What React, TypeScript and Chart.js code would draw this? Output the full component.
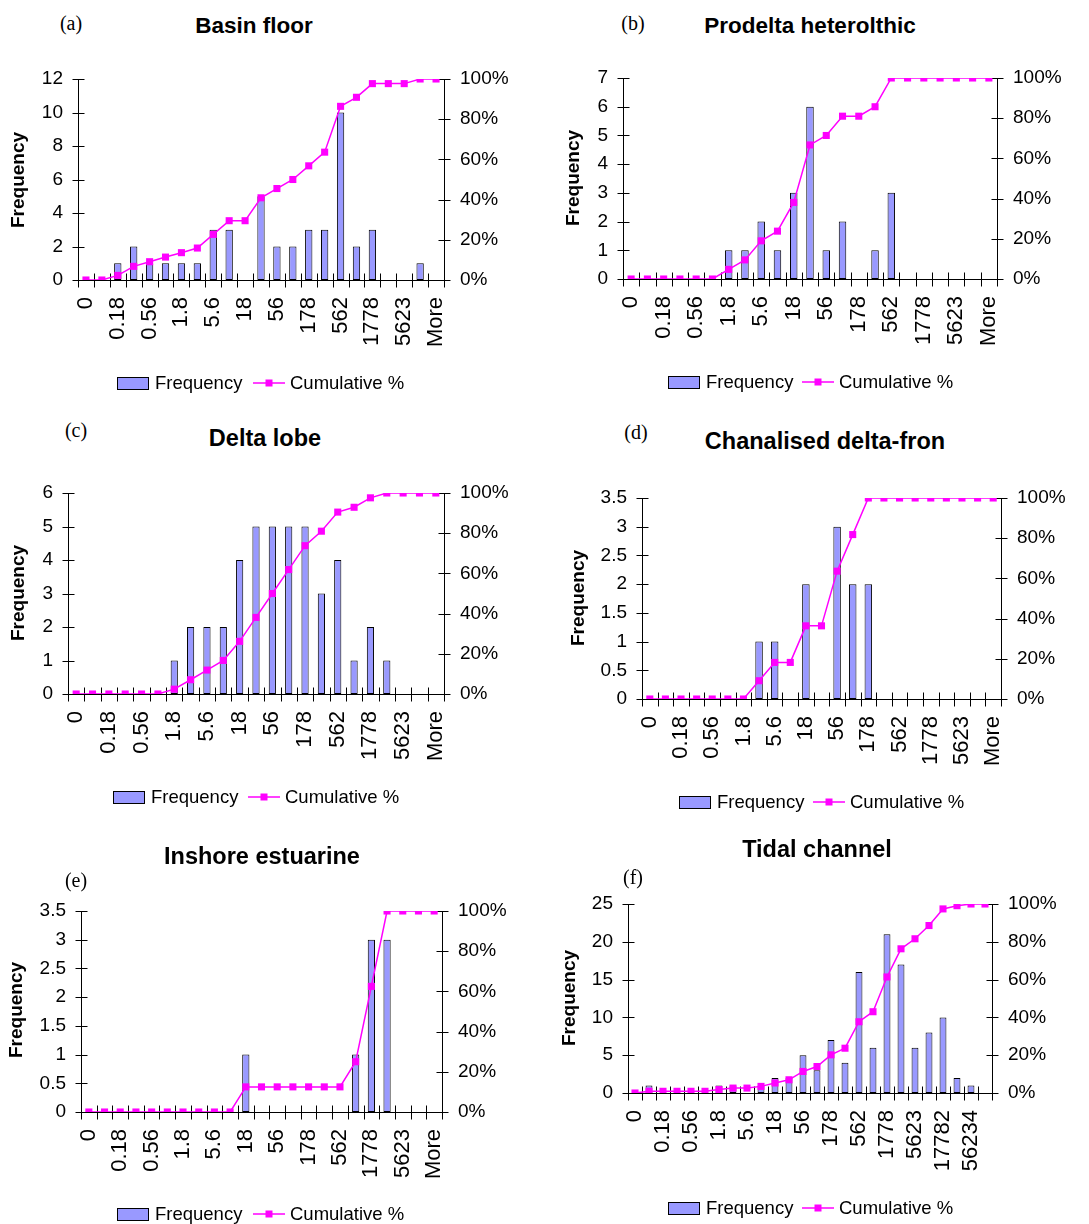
import React, { useEffect, useRef } from 'react';
import { Chart, registerables } from 'chart.js';

Chart.register(...registerables);

// ---------- data ----------
const binLabels = ['0', '0.1', '0.18', '0.32', '0.56', '1', '1.8', '3.2', '5.6', '10', '18', '32', '56', '100', '178', '316', '562', '1000', '1778', '3162', '5623', '10000', 'More'];
const binLabelsTidal = ['0', '0.1', '0.18', '0.32', '0.56', '1', '1.8', '3.2', '5.6', '10', '18', '32', '56', '100', '178', '316', '562', '1000', '1778', '3162', '5623', '10000', '17782', '31623', '56234', 'More'];

const basinFreq = [0, 0, 1, 2, 1, 1, 1, 1, 3, 3, 0, 5, 2, 2, 3, 3, 10, 2, 3, 0, 0, 1, 0];
const basinCum = [0, 0, 2.3, 6.8, 9.1, 11.4, 13.6, 15.9, 22.7, 29.5, 29.5, 40.9, 45.5, 50.0, 56.8, 63.6, 86.4, 90.9, 97.7, 97.7, 97.7, 100, 100];

const prodeltaFreq = [0, 0, 0, 0, 0, 0, 1, 1, 2, 1, 3, 6, 1, 2, 0, 1, 3, 0, 0, 0, 0, 0, 0];
const prodeltaCum = [0, 0, 0, 0, 0, 0, 4.8, 9.5, 19.0, 23.8, 38.1, 66.7, 71.4, 81.0, 81.0, 85.7, 100, 100, 100, 100, 100, 100, 100];

const lobeFreq = [0, 0, 0, 0, 0, 0, 1, 2, 2, 2, 4, 5, 5, 5, 5, 3, 4, 1, 2, 1, 0, 0, 0];
const lobeCum = [0, 0, 0, 0, 0, 0, 2.4, 7.1, 11.9, 16.7, 26.2, 38.1, 50.0, 61.9, 73.8, 81.0, 90.5, 92.9, 97.6, 100, 100, 100, 100];

const frontFreq = [0, 0, 0, 0, 0, 0, 0, 1, 1, 0, 2, 0, 3, 2, 2, 0, 0, 0, 0, 0, 0, 0, 0];
const frontCum = [0, 0, 0, 0, 0, 0, 0, 9.1, 18.2, 18.2, 36.4, 36.4, 63.6, 81.8, 100, 100, 100, 100, 100, 100, 100, 100, 100];

const estuarineFreq = [0, 0, 0, 0, 0, 0, 0, 0, 0, 0, 1, 0, 0, 0, 0, 0, 0, 1, 3, 3, 0, 0, 0];
const estuarineCum = [0, 0, 0, 0, 0, 0, 0, 0, 0, 0, 12.5, 12.5, 12.5, 12.5, 12.5, 12.5, 12.5, 25.0, 62.5, 100, 100, 100, 100];

const tidalFreq = [0, 1, 0, 0, 0, 0, 1, 1, 0, 1, 2, 2, 5, 3, 7, 4, 16, 6, 21, 17, 6, 8, 10, 2, 1, 0];
const tidalCum = [0, 0.9, 0.9, 0.9, 0.9, 0.9, 1.8, 2.6, 2.6, 3.5, 5.3, 7.0, 11.4, 14.0, 20.2, 23.7, 37.7, 43.0, 61.4, 76.3, 81.6, 88.6, 97.4, 99.1, 100, 100];

const leftTicksMax = [12, 7, 6, 3.5, 3.5, 25];
const leftTicksStep = [2, 1, 1, 0.5, 0.5, 5];
const panelTags = ['(a)', '(b)', '(c)', '(d)', '(e)', '(f)'];
const panelTitles = ['Basin floor', 'Prodelta heterolthic', 'Delta lobe', 'Chanalised delta-fron', 'Inshore estuarine', 'Tidal channel'];
const percentTicks = [0, 20, 40, 60, 80, 100];

// ---------- layout ----------
const SANS = "'Liberation Sans', Arial, Helvetica, sans-serif";
const SERIF = "'Liberation Serif', 'Times New Roman', serif";
const LEFT_W = 50;
const RIGHT_W = 75;
const X_H = 90;
const BAR_FILL = '#9999FF';
const LINE_COL = '#FF00FF';

type PanelDef = {
  labels: string[]; freq: number[]; cum: number[]; yMax: number; yStep: number;
  tag: string; title: string;
  x0: number; y0: number; w: number; h: number;
  L: number; R: number; T: number; B: number;
  tagX: number; tagY: number; titleX: number; titleY: number; titleSize: number;
  fqX: number; fqY: number;
  legBox: number; legLine: number; legY: number;
  barPct: number;
};

const geo = [
  { x0: 0, y0: 40, w: 544, h: 370, L: 78, R: 444, T: 79, B: 280, tagX: 71, tagY: 23, titleX: 254, titleY: 26, titleSize: 22.5, fqX: 19, fqY: 180, legBox: 117, legLine: 253, legY: 383, barPct: 0.46 },
  { x0: 545, y0: 40, w: 544, h: 370, L: 623, R: 997, T: 78, B: 279, tagX: 633, tagY: 23, titleX: 810, titleY: 26, titleSize: 22.5, fqX: 574, fqY: 178, legBox: 668, legLine: 802, legY: 382, barPct: 0.46 },
  { x0: 0, y0: 455, w: 544, h: 370, L: 68, R: 444, T: 493, B: 694, tagX: 76, tagY: 430, titleX: 265, titleY: 439, titleSize: 23.5, fqX: 19, fqY: 593, legBox: 113, legLine: 248, legY: 797, barPct: 0.44 },
  { x0: 545, y0: 455, w: 544, h: 370, L: 642, R: 1001, T: 498, B: 699, tagX: 636, tagY: 432, titleX: 825, titleY: 442, titleSize: 23.5, fqX: 579, fqY: 598, legBox: 679, legLine: 813, legY: 802, barPct: 0.48 },
  { x0: 0, y0: 885, w: 544, h: 339, L: 81, R: 442, T: 911, B: 1112, tagX: 76, tagY: 880, titleX: 262, titleY: 857, titleSize: 23.5, fqX: 17, fqY: 1010, legBox: 117, legLine: 253, legY: 1214, barPct: 0.46 },
  { x0: 545, y0: 885, w: 544, h: 339, L: 628, R: 992, T: 904, B: 1093, tagX: 633, tagY: 877, titleX: 817, titleY: 850, titleSize: 23.5, fqX: 570, fqY: 998, legBox: 668, legLine: 802, legY: 1208, barPct: 0.49 },
];

const dataSets = [
  { labels: binLabels, freq: basinFreq, cum: basinCum },
  { labels: binLabels, freq: prodeltaFreq, cum: prodeltaCum },
  { labels: binLabels, freq: lobeFreq, cum: lobeCum },
  { labels: binLabels, freq: frontFreq, cum: frontCum },
  { labels: binLabels, freq: estuarineFreq, cum: estuarineCum },
  { labels: binLabelsTidal, freq: tidalFreq, cum: tidalCum },
];

const panels: PanelDef[] = geo.map((g, i) => ({
  ...g,
  ...dataSets[i],
  yMax: leftTicksMax[i],
  yStep: leftTicksStep[i],
  tag: panelTags[i],
  title: panelTitles[i],
}));

function decorPlugin(p: PanelDef) {
  return {
    id: 'decor',
    beforeDatasetsDraw(chart: any) {
      const ctx = chart.ctx as CanvasRenderingContext2D;
      const { left, right, bottom, top } = chart.chartArea;
      const a = (v: number) => Math.round(v) + 0.5;
      ctx.save();
      ctx.strokeStyle = '#000';
      ctx.lineWidth = 1;
      ctx.beginPath();
      ctx.moveTo(a(left), a(top));
      ctx.lineTo(a(left), a(bottom));
      ctx.moveTo(a(right), a(top));
      ctx.lineTo(a(right), a(bottom));
      ctx.moveTo(a(left), a(bottom));
      ctx.lineTo(a(right), a(bottom));
      const ys = chart.scales.y;
      ys.ticks.forEach((t: any) => {
        const y = a(ys.getPixelForValue(t.value));
        ctx.moveTo(a(left) - 6, y);
        ctx.lineTo(a(left) + 6, y);
      });
      const y2 = chart.scales.y2;
      y2.ticks.forEach((t: any) => {
        const y = a(y2.getPixelForValue(t.value));
        ctx.moveTo(a(right) - 6, y);
        ctx.lineTo(a(right) + 6, y);
      });
      const n = chart.data.labels.length;
      for (let i = 0; i <= n; i++) {
        const x = a(left + ((right - left) * i) / n);
        ctx.moveTo(x, a(bottom) - 7);
        ctx.lineTo(x, a(bottom) + 7);
      }
      ctx.stroke();
      ctx.restore();
    },
    afterDraw(chart: any) {
      const ctx = chart.ctx as CanvasRenderingContext2D;
      ctx.save();
      ctx.fillStyle = '#000';
      ctx.font = `bold 19px ${SANS}`;
      ctx.textAlign = 'center';
      ctx.textBaseline = 'middle';
      ctx.translate(p.fqX - p.x0, p.fqY - p.y0);
      ctx.rotate(-Math.PI / 2);
      ctx.fillText('Frequency', 0, 0);
      ctx.restore();

      ctx.save();
      const ly = p.legY - p.y0;
      const bx = p.legBox - p.x0;
      const lx = p.legLine - p.x0;
      ctx.fillStyle = BAR_FILL;
      ctx.fillRect(bx, Math.round(ly - 6), 31, 12);
      ctx.strokeStyle = '#000';
      ctx.lineWidth = 1;
      ctx.strokeRect(bx + 0.5, Math.round(ly - 6) + 0.5, 31, 12);
      ctx.fillStyle = '#000';
      ctx.font = `18.5px ${SANS}`;
      ctx.textAlign = 'left';
      ctx.textBaseline = 'middle';
      ctx.fillText('Frequency', bx + 38, ly + 1);
      ctx.strokeStyle = LINE_COL;
      ctx.lineWidth = 1.5;
      ctx.beginPath();
      ctx.moveTo(lx, ly);
      ctx.lineTo(lx + 32, ly);
      ctx.stroke();
      ctx.fillStyle = LINE_COL;
      ctx.fillRect(lx + 16 - 3.5, ly - 3.5, 7, 7);
      ctx.fillStyle = '#000';
      ctx.fillText('Cumulative %', lx + 37, ly + 1);
      ctx.restore();
    },
  };
}

function Panel({ p }: { p: PanelDef }) {
  const ref = useRef<HTMLCanvasElement | null>(null);
  useEffect(() => {
    const canvas = ref.current;
    if (!canvas) return;
    const tickFont = { family: SANS, size: 19 };
    const chart = new Chart(canvas, {
      type: 'bar',
      data: {
        labels: p.labels,
        datasets: [
          {
            type: 'line',
            label: 'Cumulative %',
            data: p.cum,
            yAxisID: 'y2',
            borderColor: LINE_COL,
            backgroundColor: LINE_COL,
            borderWidth: 1.5,
            pointStyle: 'rect',
            pointRadius: 5,
            pointBorderWidth: 0,
            pointBackgroundColor: LINE_COL,
            tension: 0,
            order: 0,
          } as any,
          {
            type: 'bar',
            label: 'Frequency',
            data: p.freq,
            yAxisID: 'y',
            backgroundColor: BAR_FILL,
            borderColor: '#000',
            borderWidth: 1,
            borderSkipped: false,
            barPercentage: p.barPct,
            categoryPercentage: 1,
            order: 1,
          } as any,
        ],
      },
      options: {
        responsive: false,
        animation: false,
        devicePixelRatio: 1,
        layout: {
          padding: {
            left: p.L - p.x0 - LEFT_W,
            right: p.x0 + p.w - p.R - RIGHT_W,
            top: p.T - p.y0,
            bottom: p.y0 + p.h - p.B - X_H,
          },
        },
        plugins: {
          legend: { display: false },
          title: { display: false },
          tooltip: { enabled: false },
        },
        scales: {
          x: {
            type: 'category',
            offset: true,
            grid: { display: false, drawTicks: false },
            border: { display: false },
            ticks: {
              autoSkip: false,
              maxRotation: 90,
              minRotation: 90,
              padding: 17,
              color: '#000',
              font: { family: SANS, size: 22 },
              callback: (_v: any, i: number) => (i % 2 === 0 ? p.labels[i] : ''),
            },
            afterFit: (s: any) => {
              s.height = X_H;
              s.paddingLeft = 0;
              s.paddingRight = 0;
            },
          },
          y: {
            position: 'left',
            min: 0,
            max: p.yMax,
            grid: { display: false, drawTicks: false },
            border: { display: false },
            ticks: {
              stepSize: p.yStep,
              padding: 15,
              color: '#000',
              font: tickFont,
              callback: (v: any) => String(Math.round(Number(v) * 100) / 100),
            },
            afterFit: (s: any) => {
              s.width = LEFT_W;
              s.paddingTop = 0;
              s.paddingBottom = 0;
            },
          },
          y2: {
            position: 'right',
            min: 0,
            max: 100,
            grid: { display: false, drawTicks: false },
            border: { display: false },
            afterBuildTicks: (s: any) => {
              s.ticks = percentTicks.map((v) => ({ value: v }));
            },
            ticks: {
              padding: 16,
              color: '#000',
              font: tickFont,
              callback: (v: any) => `${v}%`,
            },
            afterFit: (s: any) => {
              s.width = RIGHT_W;
              s.paddingTop = 0;
              s.paddingBottom = 0;
            },
          },
        },
      } as any,
      plugins: [decorPlugin(p)],
    });
    return () => chart.destroy();
  }, [p]);
  return (
    <canvas
      ref={ref}
      width={p.w}
      height={p.h}
      style={{ position: 'absolute', left: p.x0, top: p.y0, width: p.w, height: p.h }}
    />
  );
}

export default function App() {
  return (
    <div style={{ position: 'absolute', left: 0, top: 0, width: 1089, height: 1224, background: '#fff', overflow: 'hidden' }}>
      {panels.map((p, i) => (
        <React.Fragment key={i}>
          <Panel p={p} />
          <div
            style={{
              position: 'absolute', left: p.tagX, top: p.tagY, transform: 'translate(-50%, -50%)',
              fontFamily: SERIF, fontSize: 20, lineHeight: 1, whiteSpace: 'nowrap', color: '#000',
            }}
          >
            {p.tag}
          </div>
          <div
            style={{
              position: 'absolute', left: p.titleX, top: p.titleY, transform: 'translate(-50%, -50%)',
              fontFamily: SANS, fontWeight: 'bold', fontSize: p.titleSize, lineHeight: 1, whiteSpace: 'nowrap', color: '#000',
            }}
          >
            {p.title}
          </div>
        </React.Fragment>
      ))}
    </div>
  );
}
